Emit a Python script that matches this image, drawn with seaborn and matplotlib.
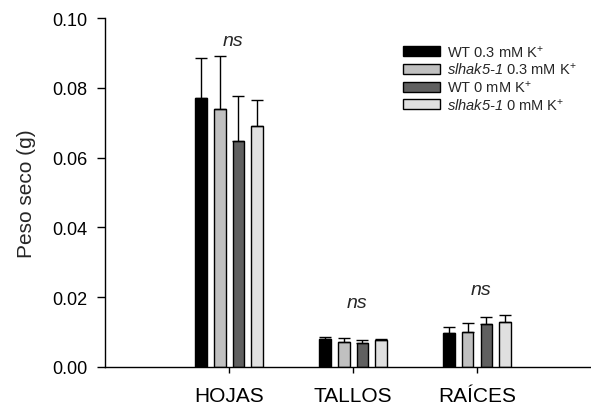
import matplotlib
matplotlib.use("Agg")
import matplotlib.pyplot as plt
import seaborn as sns
import pandas as pd
import numpy as np

categories = ["HOJAS", "TALLOS", "RAÍCES"]
groups = ["WT 0.3 mM K$^{+}$", "$\\mathsf{slhak5\u20101}$ 0.3 mM K$^{+}$",
          "WT 0 mM K$^{+}$", "$\\mathsf{slhak5\u20101}$ 0 mM K$^{+}$"]
# mean dry weight (g) per tissue, one list per genotype/treatment
wt_03 = [0.0771, 0.0081, 0.0098]
mut_03 = [0.0738, 0.0072, 0.0100]
wt_0 = [0.0648, 0.0069, 0.0124]
mut_0 = [0.0690, 0.0077, 0.0129]
# standard error (upper bar only)
wt_03_err = [0.0114, 0.0005, 0.0015]
mut_03_err = [0.0154, 0.0012, 0.0025]
wt_0_err = [0.0128, 0.0007, 0.0019]
mut_0_err = [0.0076, 0.0002, 0.0021]
ns_y = [0.0935, 0.0185, 0.0222]

colors = ["#000000", "#c0c0c0", "#606060", "#e0e0e0"]

series = [wt_03, mut_03, wt_0, mut_0]
errors = [wt_03_err, mut_03_err, wt_0_err, mut_0_err]
rows = []
for g, vals in zip(groups, series):
    for c, v in zip(categories, vals):
        rows.append({"tejido": c, "grupo": g, "peso": v})
df = pd.DataFrame(rows)

sns.set_theme(style="ticks")
plt.rcParams["font.family"] = ["Liberation Sans", "DejaVu Sans"]
plt.rcParams["mathtext.fontset"] = "custom"
plt.rcParams["mathtext.rm"] = "Liberation Sans"
plt.rcParams["mathtext.it"] = "Liberation Sans:italic"
plt.rcParams["mathtext.sf"] = "Liberation Sans:italic"

fig = plt.figure(figsize=(5.91, 4.06), dpi=100)
ax = fig.add_axes([0.178, 0.094, 0.822, 0.859])

sns.barplot(data=df, x="tejido", y="peso", hue="grupo", order=categories,
            hue_order=groups, palette=colors, width=0.6, gap=0.38,
            edgecolor="black", linewidth=1.0, errorbar=None, ax=ax)

# upper error bars, positioned from the drawn bars
for cont, err in zip(ax.containers, errors):
    xs = [p.get_x() + p.get_width() / 2 for p in cont.patches]
    ys = [p.get_height() for p in cont.patches]
    ax.errorbar(xs, ys, yerr=[np.zeros(len(err)), err], fmt="none",
                ecolor="black", elinewidth=1.0, capsize=4.5, capthick=1.0)

for i, y in enumerate(ns_y):
    ax.text(i + 0.03, y, "ns", ha="center", va="center", style="italic",
            fontsize=14)

ax.set_xlim(-1, 2.92)
ax.set_ylim(0, 0.10)
yt = [0, 0.02, 0.04, 0.06, 0.08, 0.10]
ax.set_yticks(yt)
ax.set_yticklabels([f"{v:.2f}" for v in yt])
ax.set_xlabel("")
ax.set_ylabel("Peso seco (g)", fontsize=15)
ax.yaxis.set_label_coords(-0.142, 0.5)
ax.tick_params(axis="y", labelsize=13, direction="out", length=6, width=1,
               pad=7, colors="black")
ax.tick_params(axis="x", labelsize=15, direction="out", length=4, width=1,
               pad=10, colors="black")
for s in ["top", "right"]:
    ax.spines[s].set_visible(False)
for s in ["left", "bottom"]:
    ax.spines[s].set_linewidth(1.0)
    ax.spines[s].set_color("black")

leg = ax.legend(loc="upper left", bbox_to_anchor=(0.613, 0.928), frameon=False,
                fontsize=10.5, handlelength=2.55, handleheight=0.68,
                handletextpad=0.5, labelspacing=0.12, borderpad=0,
                borderaxespad=0)

fig.savefig("out.png", dpi=100)
